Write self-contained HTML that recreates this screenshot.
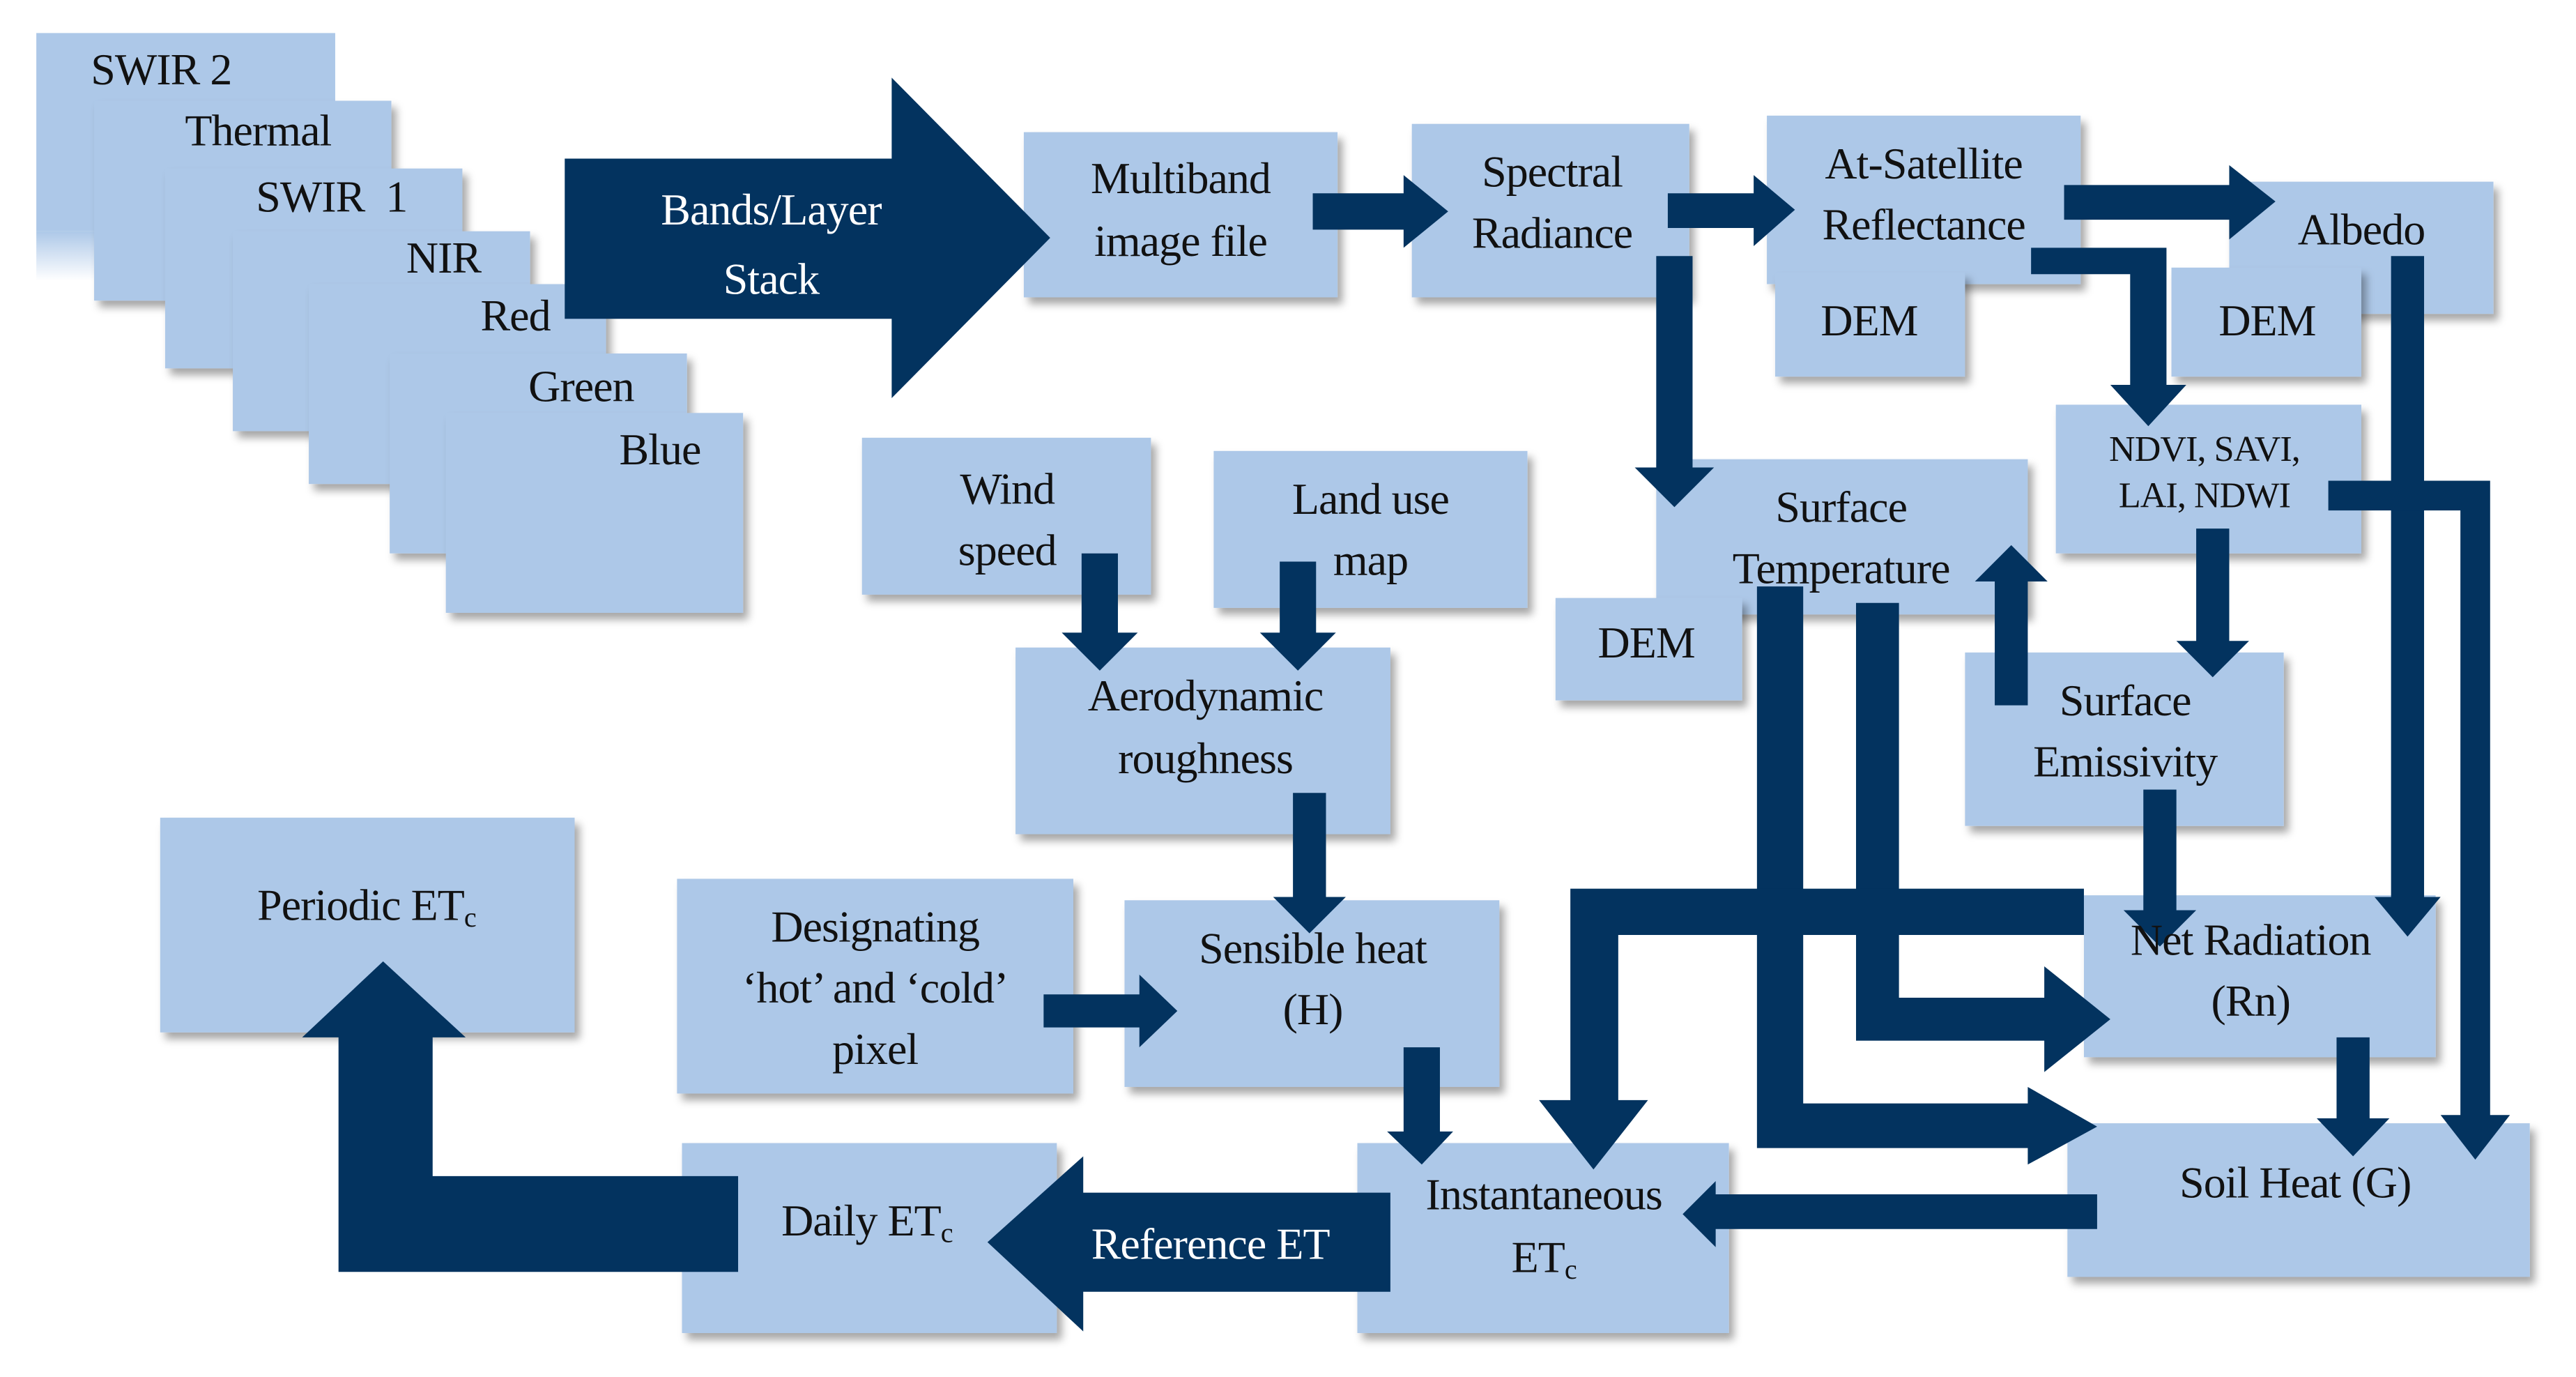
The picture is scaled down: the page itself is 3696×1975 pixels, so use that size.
<!DOCTYPE html>
<html><head><meta charset="utf-8"><style>
html,body{margin:0;padding:0;background:#fff;}
svg{display:block;}
text{font-family:"Liberation Serif",serif;font-size:27px;fill:#111;letter-spacing:-0.4px;}
.w{fill:#fff;}
</style></head><body>
<svg width="3696" height="1975" viewBox="0 0 1560 833.6" xmlns="http://www.w3.org/2000/svg">
<defs>
<filter id="sh" x="-10%" y="-10%" width="130%" height="130%"><feDropShadow dx="3" dy="4" stdDeviation="2.5" flood-color="#000" flood-opacity="0.35"/></filter>
<linearGradient id="fade" x1="0" y1="0" x2="0" y2="1"><stop offset="0" stop-color="#adc8e8"/><stop offset="1" stop-color="#adc8e8" stop-opacity="0"/></linearGradient>
</defs>
<g fill="#adc8e8">
<rect x="22" y="140" width="40" height="30" fill="url(#fade)"/>
<rect x="22" y="20" width="181" height="120"/>
<rect x="57" y="61" width="180" height="121" filter="url(#sh)"/>
<rect x="100" y="102" width="180" height="121" filter="url(#sh)"/>
<rect x="141" y="140" width="180" height="121" filter="url(#sh)"/>
<rect x="187" y="172" width="180" height="121" filter="url(#sh)"/>
<rect x="236" y="214" width="180" height="121" filter="url(#sh)"/>
<rect x="270" y="250" width="180" height="121" filter="url(#sh)"/>

<rect x="620" y="80" width="190" height="100" filter="url(#sh)"/>
<rect x="855" y="75" width="168" height="105" filter="url(#sh)"/>
<rect x="1070" y="70" width="190" height="102" filter="url(#sh)"/>
<rect x="1350" y="110" width="160" height="80" filter="url(#sh)"/>
<rect x="1075" y="165" width="115" height="63" filter="url(#sh)"/>
<rect x="1315" y="162" width="115" height="66" filter="url(#sh)"/>
<rect x="1245" y="245" width="185" height="90" filter="url(#sh)"/>
<rect x="1003" y="278" width="225" height="94" filter="url(#sh)"/>
<rect x="942" y="362" width="113" height="62" filter="url(#sh)"/>
<rect x="1190" y="395" width="193" height="105" filter="url(#sh)"/>
<rect x="522" y="265" width="175" height="95" filter="url(#sh)"/>
<rect x="735" y="273" width="190" height="95" filter="url(#sh)"/>
<rect x="615" y="392" width="227" height="113" filter="url(#sh)"/>
<rect x="97" y="495" width="251" height="130" filter="url(#sh)"/>
<rect x="410" y="532" width="240" height="130" filter="url(#sh)"/>
<rect x="681" y="545" width="227" height="113" filter="url(#sh)"/>
<rect x="1262" y="542" width="213" height="98" filter="url(#sh)"/>
<rect x="1252" y="680" width="280" height="93" filter="url(#sh)"/>
<rect x="822" y="692" width="225" height="115" filter="url(#sh)"/>
<rect x="413" y="692" width="227" height="115" filter="url(#sh)"/>
</g>

<g fill="#03335f">
<polygon points="342,96 540,96 540,47 636,144 540,241 540,193 342,193"/>
<polygon points="795,117 850,117 850,106 877,128 850,150 850,139 795,139"/>
<polygon points="1010,117 1062,117 1062,106 1087,127 1062,149 1062,138 1010,138"/>
<polygon points="1250,112 1350,112 1350,100 1378,122 1350,145 1350,133 1250,133"/>
<polygon points="1003,155 1025,155 1025,283 1038,283 1014,307 990,283 1003,283"/>
<polygon points="1230,150 1312,150 1312,233 1324,233 1301,258 1278,233 1290,233 1290,166 1230,166"/>
<polygon points="1448,155 1468,155 1468,543 1478,543 1458,567 1438,543 1448,543"/>
<polygon points="1410,291 1508,291 1508,675 1520,675 1499,702 1478,675 1490,675 1490,309 1410,309"/>
<polygon points="1330,320 1350,320 1350,388 1362,388 1340,410 1318,388 1330,388"/>
<polygon points="1208,427 1228,427 1228,352 1240,352 1218,330 1196,352 1208,352"/>
<polygon points="1298,478 1318,478 1318,551 1330,551 1308,573 1286,551 1298,551"/>
<polygon points="1415,628 1435,628 1435,677 1447,677 1425,700 1403,677 1415,677"/>
<polygon points="1064,355 1092,355 1092,668 1228,668 1228,658 1270,682 1228,705 1228,695 1064,695"/>
<polygon points="1124,365 1150,365 1150,604 1238,604 1238,585 1278,617 1238,649 1238,630 1124,630"/>
<polygon points="1262,538 1262,566 980,566 980,666 998,666 965,708 932,666 951,666 951,538"/>
<polygon points="1270,723 1270,744 1039,744 1039,755 1019,735 1039,715 1039,723"/>
<polygon points="850,634 872,634 872,685 880,685 861,705 840,685 850,685"/>
<polygon points="783,480 803,480 803,543 815,543 793,565 771,543 783,543"/>
<polygon points="655,335 677,335 677,383 689,383 666,406 643,383 655,383"/>
<polygon points="775,340 797,340 797,383 809,383 786,406 763,383 775,383"/>
<polygon points="632,602 690,602 690,590 713,612 690,634 690,622 632,622"/>
<polygon points="842,722 842,782 656,782 656,806 598,752 656,700 656,722"/>
<polygon points="447,712 447,770 205,770 205,628 183,628 232,582 282,628 262,628 262,712"/>
</g>

<text x="55" y="51">SWIR 2</text>
<text x="112" y="88">Thermal</text>
<text x="155" y="128" xml:space="preserve">SWIR  1</text>
<text x="246" y="165">NIR</text>
<text x="291" y="200">Red</text>
<text x="320" y="243">Green</text>
<text x="375" y="281">Blue</text>
<g text-anchor="middle">
<text class="w" x="467" y="136">Bands/Layer</text>
<text class="w" x="467" y="178">Stack</text>
<text x="715" y="117">Multiband</text>
<text x="715" y="155">image file</text>
<text x="940" y="113">Spectral</text>
<text x="940" y="150">Radiance</text>
<text x="1165" y="108">At-Satellite</text>
<text x="1165" y="145">Reflectance</text>
<text x="1430" y="148">Albedo</text>
<text x="1132" y="203">DEM</text>
<text x="1373" y="203">DEM</text>
<text x="997" y="398">DEM</text>
<text x="1335" y="279" style="font-size:22px">NDVI, SAVI,</text>
<text x="1335" y="307" style="font-size:22px">LAI, NDWI</text>
<text x="1115" y="316">Surface</text>
<text x="1115" y="353">Temperature</text>
<text x="1287" y="433">Surface</text>
<text x="1287" y="470">Emissivity</text>
<text x="610" y="305">Wind</text>
<text x="610" y="342">speed</text>
<text x="830" y="311">Land use</text>
<text x="830" y="348">map</text>
<text x="730" y="430">Aerodynamic</text>
<text x="730" y="468">roughness</text>
<text x="222" y="557">Periodic ET<tspan style="font-size:17px" dy="4">c</tspan></text>
<text x="530" y="570">Designating</text>
<text x="530" y="607">‘hot’ and ‘cold’</text>
<text x="530" y="644">pixel</text>
<text x="795" y="583">Sensible heat</text>
<text x="795" y="620">(H)</text>
<text x="1363" y="578">Net Radiation</text>
<text x="1363" y="615">(Rn)</text>
<text x="1390" y="725">Soil Heat (G)</text>
<text x="935" y="732">Instantaneous</text>
<text x="935" y="770">ET<tspan style="font-size:17px" dy="4">c</tspan></text>
<text x="525" y="748">Daily ET<tspan style="font-size:17px" dy="4">c</tspan></text>
<text class="w" x="733" y="762">Reference ET</text>
</g>
</svg>
</body></html>
